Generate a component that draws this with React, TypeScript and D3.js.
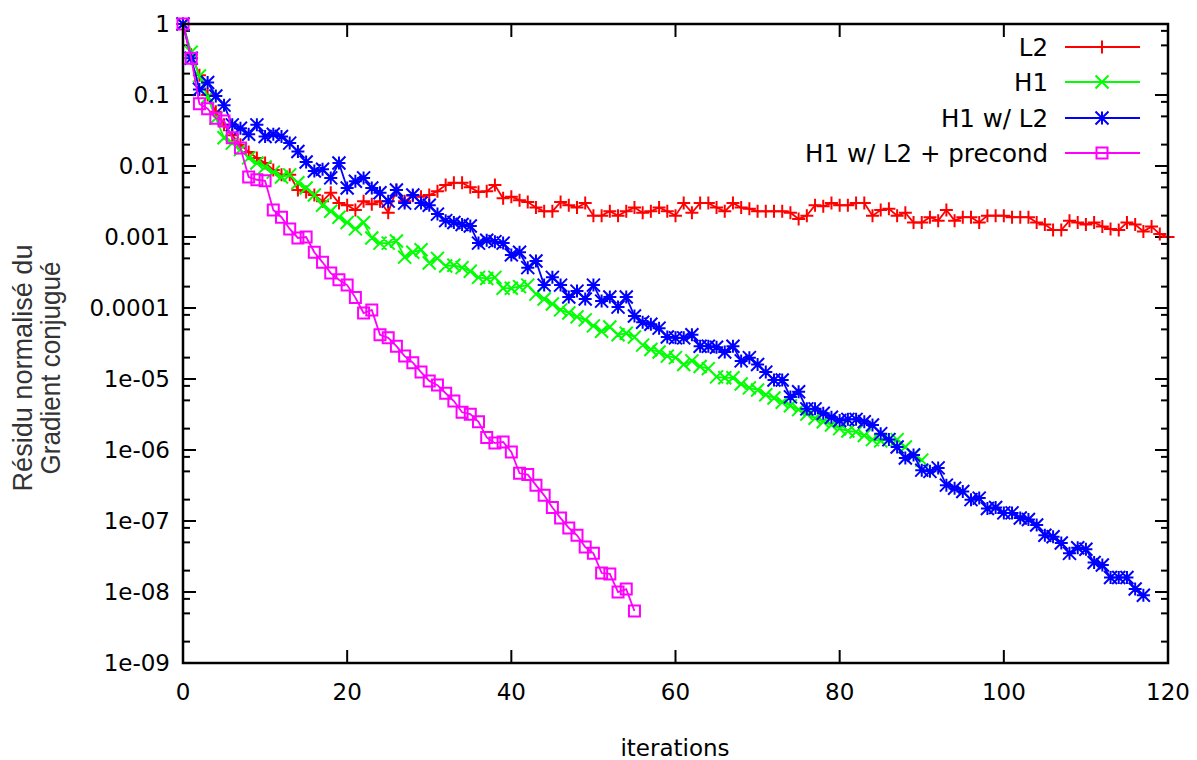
import React from "react";
import * as d3 from "d3";

// ---- data ----
const l2Values = [
  1, 0.37, 0.19, 0.1, 0.058, 0.038, 0.027, 0.02, 0.0157, 0.013,
  0.011, 0.0088, 0.0075, 0.0075, 0.0046, 0.0043, 0.0039, 0.0032, 0.0042, 0.003,
  0.0028, 0.0024, 0.0032, 0.0029, 0.0032, 0.0022, 0.0046, 0.0032, 0.0038, 0.0037,
  0.0039, 0.0044, 0.0054, 0.0058, 0.0058, 0.005, 0.0043, 0.0044, 0.0054, 0.0035,
  0.0037, 0.0033, 0.0031, 0.0026, 0.0023, 0.0023, 0.0031, 0.0028, 0.0026, 0.003,
  0.002, 0.002, 0.0023, 0.002, 0.0023, 0.0026, 0.0022, 0.0023, 0.0026, 0.0023,
  0.002, 0.003, 0.0022, 0.003, 0.003, 0.0026, 0.0023, 0.003, 0.0026, 0.0025,
  0.0023, 0.0023, 0.0023, 0.0023, 0.0022, 0.0018, 0.002, 0.0028, 0.0027, 0.003,
  0.0028, 0.0028, 0.003, 0.003, 0.002, 0.0024, 0.0025, 0.002, 0.0022, 0.0016,
  0.0016, 0.0019, 0.0017, 0.0024, 0.0017, 0.0019, 0.0019, 0.0016, 0.002, 0.002,
  0.002, 0.0019, 0.0019, 0.0019, 0.0016, 0.0015, 0.00125, 0.00125, 0.0017, 0.0016,
  0.0015, 0.0016, 0.0014, 0.0013, 0.00125, 0.0016, 0.0015, 0.0012, 0.0014, 0.0011,
  0.001,
];

const h1Values = [
  1, 0.4, 0.185, 0.094, 0.047, 0.025, 0.021, 0.017, 0.013, 0.011,
  0.0097, 0.0082, 0.007, 0.0075, 0.0058, 0.0049, 0.0039, 0.0028, 0.0023, 0.0019,
  0.0016, 0.0013, 0.0016, 0.00097, 0.00082, 0.00082, 0.00088, 0.00052, 0.00061, 0.00066,
  0.00043, 0.0005, 0.00039, 0.0004, 0.00037, 0.00033, 0.00027, 0.00026, 0.00027, 0.00019,
  0.00019, 0.0002, 0.00021, 0.000157, 0.000134, 0.000114, 9.4e-5, 8.5e-5, 7.5e-5, 6.8e-5,
  5.6e-5, 4.7e-5, 5.4e-5, 4.2e-5, 4.4e-5, 3.9e-5, 3e-5, 2.6e-5, 2.4e-5, 2.1e-5,
  2e-5, 1.6e-5, 1.8e-5, 1.5e-5, 1.4e-5, 1.07e-5, 1.04e-5, 1.04e-5, 8.5e-6, 7.5e-6,
  7e-6, 6e-6, 5.4e-6, 4.7e-6, 4.2e-6, 3.7e-6, 3.2e-6, 2.8e-6, 2.5e-6, 2.25e-6,
  2e-6, 1.85e-6, 1.8e-6, 1.6e-6, 1.4e-6, 1.35e-6, 1.4e-6, 1.4e-6, 1.1e-6, 8.5e-7,
  7.2e-7,
];

const h1wL2Values = [
  1, 0.33, 0.12, 0.15, 0.097, 0.072, 0.038, 0.034, 0.028, 0.038,
  0.026, 0.028, 0.026, 0.021, 0.016, 0.0114, 0.0085, 0.009, 0.0068, 0.011,
  0.0049, 0.0061, 0.0068, 0.0049, 0.0042, 0.0032, 0.0046, 0.003, 0.0039, 0.003,
  0.0028, 0.0021, 0.0017, 0.0016, 0.0015, 0.00143, 0.00082, 0.0009, 0.00086, 0.00082,
  0.00056, 0.00061, 0.00037, 0.00046, 0.00021, 0.00027, 0.00021, 0.000143, 0.000173, 0.000134,
  0.00021, 0.000125, 0.000143, 0.000103, 0.000143, 7.7e-5, 6.3e-5, 5.9e-5, 5.2e-5, 3.9e-5,
  3.8e-5, 3.8e-5, 4.2e-5, 2.9e-5, 2.9e-5, 2.8e-5, 2.4e-5, 2.9e-5, 1.8e-5, 2e-5,
  1.6e-5, 1.25e-5, 9.7e-6, 9.7e-6, 5.6e-6, 6.6e-6, 3.8e-6, 3.8e-6, 3.3e-6, 2.9e-6,
  2.6e-6, 2.7e-6, 2.7e-6, 2.5e-6, 2.25e-6, 1.7e-6, 1.4e-6, 1.1e-6, 7.7e-7, 8.5e-7,
  5.2e-7, 5e-7, 5.6e-7, 3.2e-7, 2.9e-7, 2.6e-7, 2e-7, 2.1e-7, 1.5e-7, 1.55e-7,
  1.3e-7, 1.3e-7, 1.1e-7, 1.05e-7, 8.8e-8, 6.3e-8, 6e-8, 4.9e-8, 3.5e-8, 4.2e-8,
  4e-8, 2.6e-8, 2.4e-8, 1.6e-8, 1.6e-8, 1.6e-8, 1.1e-8, 9e-9,
];

const precondValues = [
  1, 0.33, 0.075, 0.064, 0.047, 0.043, 0.025, 0.018, 0.007, 0.0064,
  0.0062, 0.0024, 0.0019, 0.0013, 0.00097, 0.001, 0.00061, 0.00044, 0.00031, 0.00025,
  0.00021, 0.00014, 8.5e-5, 9.4e-5, 4.2e-5, 3.8e-5, 2.9e-5, 2.1e-5, 1.7e-5, 1.25e-5,
  9.4e-6, 8.2e-6, 6.3e-6, 4.9e-6, 3.4e-6, 3.2e-6, 2.5e-6, 1.5e-6, 1.25e-6, 1.3e-6,
  9.4e-7, 4.7e-7, 4.5e-7, 3.2e-7, 2.3e-7, 1.55e-7, 1.1e-7, 8e-8, 6.3e-8, 4.3e-8,
  3.5e-8, 1.85e-8, 1.8e-8, 1e-8, 1.1e-8, 5.4e-9,
];

const seriesNames = ["L2", "H1", "H1 w/ L2", "H1 w/ L2 + precond"];
const seriesColors = ["#ff0000", "#00ff00", "#0000ff", "#ff00ff"];
const seriesMarkers = ["plus", "cross", "star", "square"];
const seriesData = [l2Values, h1Values, h1wL2Values, precondValues];

const xTicks = [0, 20, 40, 60, 80, 100, 120];
const yTicks = [1, 0.1, 0.01, 0.001, 0.0001, 1e-5, 1e-6, 1e-7, 1e-8, 1e-9];
const yTickLabels = ["1", "0.1", "0.01", "0.001", "0.0001", "1e-05", "1e-06", "1e-07", "1e-08", "1e-09"];
const yMinorMantissas = [2, 5, 8];

const xLabel = "iterations";
const yLabelLines = ["Résidu normalisé du", "Gradient conjugué"];

// ---- layout ----
const W = 1197;
const H = 760;
const L = 183, R = 1168, T = 24, B = 663;
const FONT = "'DejaVu Sans', Verdana, sans-serif";

function markerPath(type: string, cx: number, cy: number): string {
  const s = 6.5;
  const plus = `M${cx - s},${cy}H${cx + s}M${cx},${cy - s}V${cy + s}`;
  const cross = `M${cx - s},${cy - s}L${cx + s},${cy + s}M${cx - s},${cy + s}L${cx + s},${cy - s}`;
  if (type === "plus") return plus;
  if (type === "cross") return cross;
  if (type === "star") return plus + cross;
  const q = 5.5;
  return `M${cx - q},${cy - q}H${cx + q}V${cy + q}H${cx - q}Z`;
}

export default function App() {
  const x = d3.scaleLinear().domain([0, 120]).range([L, R]);
  const y = d3.scaleLog().domain([1e-9, 1]).range([B, T]);
  const line = d3
    .line<number>()
    .x((_, i) => x(i))
    .y((d) => y(d));

  const minorTicks: number[] = [];
  for (let e = -9; e < 0; e++) {
    for (const m of yMinorMantissas) minorTicks.push(m * Math.pow(10, e));
  }

  const legendRows = [47, 82, 118, 153];

  return (
    <div style={{ position: "absolute", left: 0, top: 0, width: W, height: H, background: "#fff" }}>
      <svg width={W} height={H} style={{ display: "block" }}>
        <rect x={0} y={0} width={W} height={H} fill="#fff" />
        {/* ticks */}
        <g stroke="#000" strokeWidth={2}>
          {yTicks.map((t, i) => (
            <g key={"ym" + i}>
              <line x1={L} x2={L + 13} y1={y(t)} y2={y(t)} />
              <line x1={R} x2={R - 13} y1={y(t)} y2={y(t)} />
            </g>
          ))}
          {minorTicks.map((t, i) => (
            <g key={"yn" + i}>
              <line x1={L} x2={L + 7} y1={y(t)} y2={y(t)} />
              <line x1={R} x2={R - 7} y1={y(t)} y2={y(t)} />
            </g>
          ))}
          {xTicks.map((t, i) => (
            <g key={"xm" + i}>
              <line x1={x(t)} x2={x(t)} y1={B} y2={B - 13} />
              <line x1={x(t)} x2={x(t)} y1={T} y2={T + 13} />
            </g>
          ))}
        </g>
        {/* tick labels */}
        <g fontFamily={FONT} fontSize={23} fill="#000">
          {yTicks.map((t, i) => (
            <text key={"yl" + i} x={170} y={y(t)} textAnchor="end" dominantBaseline="central">
              {yTickLabels[i]}
            </text>
          ))}
          {xTicks.map((t, i) => (
            <text key={"xl" + i} x={x(t)} y={692} textAnchor="middle" dominantBaseline="central">
              {String(t)}
            </text>
          ))}
          <text x={675} y={748} textAnchor="middle" dominantBaseline="central">
            {xLabel}
          </text>
        </g>
        {/* y axis label */}
        <g fontFamily="'Liberation Sans Narrow', 'Arial Narrow', 'Liberation Sans', Arial, sans-serif" fontSize={28} fill="#333">
          <text
            transform={`translate(22,368) rotate(-90)`}
            textAnchor="middle"
            dominantBaseline="central"
            textLength={247}
            lengthAdjust="spacingAndGlyphs"
          >
            {yLabelLines[0]}
          </text>
          <text
            transform={`translate(50,368) rotate(-90)`}
            textAnchor="middle"
            dominantBaseline="central"
            textLength={213}
            lengthAdjust="spacingAndGlyphs"
          >
            {yLabelLines[1]}
          </text>
        </g>
        {/* series */}
        {seriesData.map((vals, si) => (
          <g key={"s" + si}>
            <path d={line(vals) || ""} fill="none" stroke={seriesColors[si]} strokeWidth={1.8} />
            <path
              d={vals.map((v, i) => markerPath(seriesMarkers[si], x(i), y(v))).join("")}
              fill="none"
              stroke={seriesColors[si]}
              strokeWidth={2}
            />
          </g>
        ))}
        {/* legend */}
        <g fontFamily={FONT} fontSize={24.5} fill="#000">
          {seriesNames.map((n, i) => (
            <g key={"lg" + i}>
              <text x={1048} y={legendRows[i]} textAnchor="end" dominantBaseline="central">
                {n}
              </text>
              <line x1={1065} x2={1140} y1={legendRows[i]} y2={legendRows[i]} stroke={seriesColors[i]} strokeWidth={1.8} />
              <path d={markerPath(seriesMarkers[i], 1102, legendRows[i])} fill="none" stroke={seriesColors[i]} strokeWidth={2} />
            </g>
          ))}
        </g>
        {/* frame */}
        <rect x={L} y={T} width={R - L} height={B - T} fill="none" stroke="#000" strokeWidth={2.5} />
      </svg>
    </div>
  );
}
